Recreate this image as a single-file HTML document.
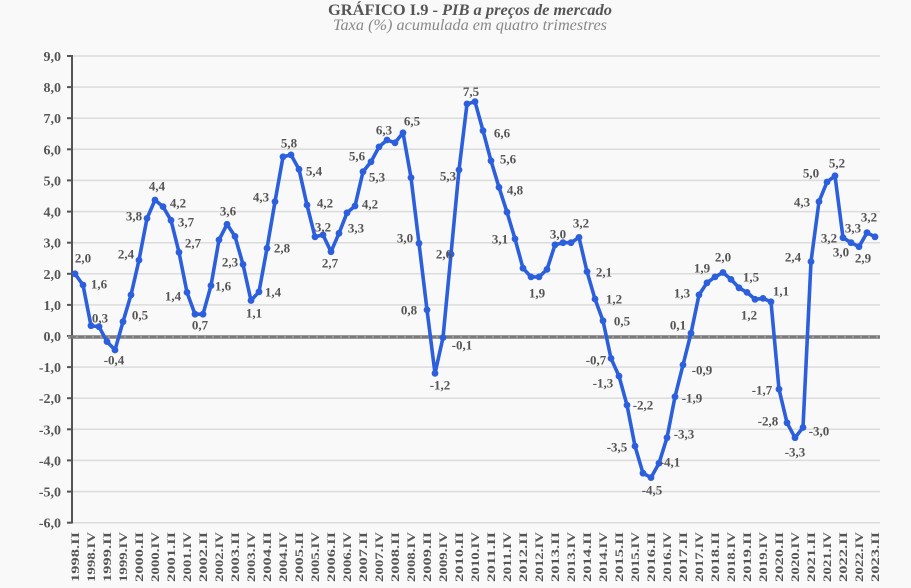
<!DOCTYPE html>
<html><head><meta charset="utf-8"><style>
html,body{margin:0;padding:0;background:#f9f9f9;}
svg{display:block;}
.t{font-family:"Liberation Serif",serif;}
.yl{font-family:"Liberation Serif",serif;font-weight:bold;font-size:14px;fill:#555;text-anchor:end;}
.dl{font-family:"Liberation Serif",serif;font-weight:bold;font-size:13px;fill:#555;text-anchor:middle;}
.xl{font-family:"Liberation Serif",serif;font-weight:bold;font-size:12px;fill:#555;text-anchor:end;}
</style></head><body>
<svg width="911" height="588" viewBox="0 0 911 588" xmlns="http://www.w3.org/2000/svg">
<rect width="911" height="588" fill="#f9f9f9"/>
<text class="t" x="328" y="15" font-size="16" font-weight="bold" fill="#555" textLength="110" lengthAdjust="spacingAndGlyphs">GRÁFICO I.9 -</text>
<text class="t" x="442" y="15" font-size="16" font-weight="bold" font-style="italic" fill="#555" textLength="170" lengthAdjust="spacingAndGlyphs">PIB a preços de mercado</text>
<text class="t" x="333" y="30" font-size="16" font-style="italic" fill="#888" textLength="274" lengthAdjust="spacingAndGlyphs">Taxa (%) acumulada em quatro trimestres</text>
<g stroke="#dcdcdc" stroke-width="1.5">
<line x1="72" y1="56" x2="880" y2="56"/><line x1="72" y1="87.1" x2="880" y2="87.1"/><line x1="72" y1="118.2" x2="880" y2="118.2"/><line x1="72" y1="149.3" x2="880" y2="149.3"/><line x1="72" y1="180.4" x2="880" y2="180.4"/><line x1="72" y1="211.6" x2="880" y2="211.6"/><line x1="72" y1="242.7" x2="880" y2="242.7"/><line x1="72" y1="273.8" x2="880" y2="273.8"/><line x1="72" y1="304.9" x2="880" y2="304.9"/><line x1="72" y1="367.1" x2="880" y2="367.1"/><line x1="72" y1="398.2" x2="880" y2="398.2"/><line x1="72" y1="429.3" x2="880" y2="429.3"/><line x1="72" y1="460.4" x2="880" y2="460.4"/><line x1="72" y1="491.6" x2="880" y2="491.6"/><line x1="72" y1="522.7" x2="880" y2="522.7"/>
</g>
<g stroke="#555" stroke-width="2">
<line x1="72" y1="55" x2="72" y2="523.5"/>
<line x1="67" y1="56" x2="72" y2="56"/><line x1="67" y1="87.1" x2="72" y2="87.1"/><line x1="67" y1="118.2" x2="72" y2="118.2"/><line x1="67" y1="149.3" x2="72" y2="149.3"/><line x1="67" y1="180.4" x2="72" y2="180.4"/><line x1="67" y1="211.6" x2="72" y2="211.6"/><line x1="67" y1="242.7" x2="72" y2="242.7"/><line x1="67" y1="273.8" x2="72" y2="273.8"/><line x1="67" y1="304.9" x2="72" y2="304.9"/><line x1="67" y1="336" x2="72" y2="336"/><line x1="67" y1="367.1" x2="72" y2="367.1"/><line x1="67" y1="398.2" x2="72" y2="398.2"/><line x1="67" y1="429.3" x2="72" y2="429.3"/><line x1="67" y1="460.4" x2="72" y2="460.4"/><line x1="67" y1="491.6" x2="72" y2="491.6"/><line x1="67" y1="522.7" x2="72" y2="522.7"/>
</g>
<line x1="68" y1="337" x2="880" y2="337" stroke="#7a7a7a" stroke-width="3.5"/>
<line x1="68" y1="337" x2="880" y2="337" stroke="#a5a5a5" stroke-width="1.5" stroke-dasharray="2 6"/>
<g>
<text class="yl" x="61" y="61">9,0</text><text class="yl" x="61" y="92.1">8,0</text><text class="yl" x="61" y="123.2">7,0</text><text class="yl" x="61" y="154.3">6,0</text><text class="yl" x="61" y="185.4">5,0</text><text class="yl" x="61" y="216.6">4,0</text><text class="yl" x="61" y="247.7">3,0</text><text class="yl" x="61" y="278.8">2,0</text><text class="yl" x="61" y="309.9">1,0</text><text class="yl" x="61" y="341">0,0</text><text class="yl" x="61" y="372.1">-1,0</text><text class="yl" x="61" y="403.2">-2,0</text><text class="yl" x="61" y="434.3">-3,0</text><text class="yl" x="61" y="465.4">-4,0</text><text class="yl" x="61" y="496.6">-5,0</text><text class="yl" x="61" y="527.7">-6,0</text>
</g>
<defs>
<marker id="m" markerUnits="userSpaceOnUse" markerWidth="10" markerHeight="10" refX="5" refY="5"><circle cx="5" cy="5" r="3.4" fill="#2b5fdc"/></marker>
</defs>
<polyline fill="none" stroke="#2b5fdc" stroke-width="3.6" stroke-linejoin="round" marker-start="url(#m)" marker-mid="url(#m)" marker-end="url(#m)" points="75,273.8 83,285 91,325.7 99,326.7 107,341.6 115,350 123,321.7 131,294.9 139,260.1 147,218.4 155,200 163,206.6 171,220.3 179,252.3 187,292.4 195,314.2 203,314.2 211,285.6 219,239.9 227,224.3 235,236.4 243,264.4 251,300.5 259,291.8 267,248.3 275,201.6 283,156.8 291,154.9 299,169.3 307,205 315,236.8 323,234.9 331,251.7 339,233.3 347,212.8 355,206 363,171.7 371,161.8 379,146.9 387,140 395,142.8 403,132.8 411,177.6 419,243.3 427,309.9 435,373.3 443,337.6 451,254.2 459,169.9 467,103.9 475,101.7 483,130.7 491,160.8 499,187.3 507,212.2 515,238.9 523,268.2 531,276.9 539,276.9 547,269.4 555,244.8 563,242.7 571,242.7 579,237.4 587,271.6 595,299 603,320.8 611,358.4 619,376.1 627,405.1 635,446.1 643,473.2 651,477.6 659,463.2 667,437.7 675,396.7 683,364.9 691,333.2 699,294.9 707,282.8 715,276.9 723,272.5 731,279.4 739,287.8 747,292.4 755,299.3 763,298.4 771,301.8 779,389.2 787,422.8 795,437.7 803,427.5 811,261.6 819,201.6 827,182 835,175.8 843,237.7 851,242.7 859,246.7 867,232.7 875,236.8"/>
<g>
<text class="dl" x="83" y="262.5">2,0</text>
<text class="dl" x="99" y="288.5">1,6</text>
<text class="dl" x="100" y="322.5">0,3</text>
<text class="dl" x="114" y="364.5">-0,4</text>
<text class="dl" x="140" y="319.5">0,5</text>
<text class="dl" x="126" y="258.5">2,4</text>
<text class="dl" x="134" y="220.5">3,8</text>
<text class="dl" x="157" y="190.5">4,4</text>
<text class="dl" x="178" y="207.5">4,2</text>
<text class="dl" x="186" y="226.5">3,7</text>
<text class="dl" x="193" y="247.5">2,7</text>
<text class="dl" x="173" y="300.5">1,4</text>
<text class="dl" x="200" y="329.5">0,7</text>
<text class="dl" x="223" y="290.5">1,6</text>
<text class="dl" x="228" y="215.5">3,6</text>
<text class="dl" x="230" y="266.5">2,3</text>
<text class="dl" x="254" y="317.5">1,1</text>
<text class="dl" x="273" y="296.5">1,4</text>
<text class="dl" x="261" y="201.5">4,3</text>
<text class="dl" x="282" y="252.5">2,8</text>
<text class="dl" x="289" y="147.5">5,8</text>
<text class="dl" x="314" y="175.5">5,4</text>
<text class="dl" x="325" y="207.5">4,2</text>
<text class="dl" x="323" y="231.5">3,2</text>
<text class="dl" x="330" y="267.5">2,7</text>
<text class="dl" x="356" y="232.5">3,3</text>
<text class="dl" x="370" y="208.5">4,2</text>
<text class="dl" x="357" y="160.5">5,6</text>
<text class="dl" x="377" y="181.5">5,3</text>
<text class="dl" x="384" y="134.5">6,3</text>
<text class="dl" x="412" y="125.5">6,5</text>
<text class="dl" x="405" y="242.5">3,0</text>
<text class="dl" x="409" y="314.5">0,8</text>
<text class="dl" x="440" y="389.5">-1,2</text>
<text class="dl" x="462" y="349.5">-0,1</text>
<text class="dl" x="444" y="258.5">2,6</text>
<text class="dl" x="448" y="180.5">5,3</text>
<text class="dl" x="471" y="96">7,5</text>
<text class="dl" x="502" y="137.5">6,6</text>
<text class="dl" x="508" y="163.5">5,6</text>
<text class="dl" x="515" y="194.5">4,8</text>
<text class="dl" x="500" y="243.5">3,1</text>
<text class="dl" x="537" y="297.5">1,9</text>
<text class="dl" x="558" y="238.5">3,0</text>
<text class="dl" x="581" y="227.5">3,2</text>
<text class="dl" x="604" y="276.5">2,1</text>
<text class="dl" x="614" y="303.5">1,2</text>
<text class="dl" x="622" y="325.5">0,5</text>
<text class="dl" x="596" y="364.5">-0,7</text>
<text class="dl" x="603" y="387.5">-1,3</text>
<text class="dl" x="643" y="409.5">-2,2</text>
<text class="dl" x="617" y="451.5">-3,5</text>
<text class="dl" x="652" y="494.5">-4,5</text>
<text class="dl" x="670" y="466.5">-4,1</text>
<text class="dl" x="684" y="438.5">-3,3</text>
<text class="dl" x="692" y="402.5">-1,9</text>
<text class="dl" x="702" y="374.5">-0,9</text>
<text class="dl" x="678" y="329.5">0,1</text>
<text class="dl" x="682" y="297.5">1,3</text>
<text class="dl" x="702" y="272.5">1,9</text>
<text class="dl" x="723" y="261.5">2,0</text>
<text class="dl" x="751" y="281.5">1,5</text>
<text class="dl" x="749" y="319.5">1,2</text>
<text class="dl" x="781" y="295.5">1,1</text>
<text class="dl" x="762" y="394.5">-1,7</text>
<text class="dl" x="768" y="425.5">-2,8</text>
<text class="dl" x="795" y="456.5">-3,3</text>
<text class="dl" x="819" y="435.5">-3,0</text>
<text class="dl" x="793" y="261.5">2,4</text>
<text class="dl" x="802" y="206.5">4,3</text>
<text class="dl" x="811" y="177.5">5,0</text>
<text class="dl" x="837" y="167.5">5,2</text>
<text class="dl" x="829" y="242.5">3,2</text>
<text class="dl" x="841" y="256.5">3,0</text>
<text class="dl" x="853" y="232.5">3,3</text>
<text class="dl" x="863" y="262.5">2,9</text>
<text class="dl" x="869" y="221.5">3,2</text>
</g>
<g>
<text class="xl" transform="translate(79,532) rotate(-90)" textLength="50" lengthAdjust="spacingAndGlyphs">1998.II</text>
<text class="xl" transform="translate(95,532) rotate(-90)" textLength="50" lengthAdjust="spacingAndGlyphs">1998.IV</text>
<text class="xl" transform="translate(111,532) rotate(-90)" textLength="50" lengthAdjust="spacingAndGlyphs">1999.II</text>
<text class="xl" transform="translate(127,532) rotate(-90)" textLength="50" lengthAdjust="spacingAndGlyphs">1999.IV</text>
<text class="xl" transform="translate(143,532) rotate(-90)" textLength="50" lengthAdjust="spacingAndGlyphs">2000.II</text>
<text class="xl" transform="translate(159,532) rotate(-90)" textLength="50" lengthAdjust="spacingAndGlyphs">2000.IV</text>
<text class="xl" transform="translate(175,532) rotate(-90)" textLength="50" lengthAdjust="spacingAndGlyphs">2001.II</text>
<text class="xl" transform="translate(191,532) rotate(-90)" textLength="50" lengthAdjust="spacingAndGlyphs">2001.IV</text>
<text class="xl" transform="translate(207,532) rotate(-90)" textLength="50" lengthAdjust="spacingAndGlyphs">2002.II</text>
<text class="xl" transform="translate(223,532) rotate(-90)" textLength="50" lengthAdjust="spacingAndGlyphs">2002.IV</text>
<text class="xl" transform="translate(239,532) rotate(-90)" textLength="50" lengthAdjust="spacingAndGlyphs">2003.II</text>
<text class="xl" transform="translate(255,532) rotate(-90)" textLength="50" lengthAdjust="spacingAndGlyphs">2003.IV</text>
<text class="xl" transform="translate(271,532) rotate(-90)" textLength="50" lengthAdjust="spacingAndGlyphs">2004.II</text>
<text class="xl" transform="translate(287,532) rotate(-90)" textLength="50" lengthAdjust="spacingAndGlyphs">2004.IV</text>
<text class="xl" transform="translate(303,532) rotate(-90)" textLength="50" lengthAdjust="spacingAndGlyphs">2005.II</text>
<text class="xl" transform="translate(319,532) rotate(-90)" textLength="50" lengthAdjust="spacingAndGlyphs">2005.IV</text>
<text class="xl" transform="translate(335,532) rotate(-90)" textLength="50" lengthAdjust="spacingAndGlyphs">2006.II</text>
<text class="xl" transform="translate(351,532) rotate(-90)" textLength="50" lengthAdjust="spacingAndGlyphs">2006.IV</text>
<text class="xl" transform="translate(367,532) rotate(-90)" textLength="50" lengthAdjust="spacingAndGlyphs">2007.II</text>
<text class="xl" transform="translate(383,532) rotate(-90)" textLength="50" lengthAdjust="spacingAndGlyphs">2007.IV</text>
<text class="xl" transform="translate(399,532) rotate(-90)" textLength="50" lengthAdjust="spacingAndGlyphs">2008.II</text>
<text class="xl" transform="translate(415,532) rotate(-90)" textLength="50" lengthAdjust="spacingAndGlyphs">2008.IV</text>
<text class="xl" transform="translate(431,532) rotate(-90)" textLength="50" lengthAdjust="spacingAndGlyphs">2009.II</text>
<text class="xl" transform="translate(447,532) rotate(-90)" textLength="50" lengthAdjust="spacingAndGlyphs">2009.IV</text>
<text class="xl" transform="translate(463,532) rotate(-90)" textLength="50" lengthAdjust="spacingAndGlyphs">2010.II</text>
<text class="xl" transform="translate(479,532) rotate(-90)" textLength="50" lengthAdjust="spacingAndGlyphs">2010.IV</text>
<text class="xl" transform="translate(495,532) rotate(-90)" textLength="50" lengthAdjust="spacingAndGlyphs">2011.II</text>
<text class="xl" transform="translate(511,532) rotate(-90)" textLength="50" lengthAdjust="spacingAndGlyphs">2011.IV</text>
<text class="xl" transform="translate(527,532) rotate(-90)" textLength="50" lengthAdjust="spacingAndGlyphs">2012.II</text>
<text class="xl" transform="translate(543,532) rotate(-90)" textLength="50" lengthAdjust="spacingAndGlyphs">2012.IV</text>
<text class="xl" transform="translate(559,532) rotate(-90)" textLength="50" lengthAdjust="spacingAndGlyphs">2013.II</text>
<text class="xl" transform="translate(575,532) rotate(-90)" textLength="50" lengthAdjust="spacingAndGlyphs">2013.IV</text>
<text class="xl" transform="translate(591,532) rotate(-90)" textLength="50" lengthAdjust="spacingAndGlyphs">2014.II</text>
<text class="xl" transform="translate(607,532) rotate(-90)" textLength="50" lengthAdjust="spacingAndGlyphs">2014.IV</text>
<text class="xl" transform="translate(623,532) rotate(-90)" textLength="50" lengthAdjust="spacingAndGlyphs">2015.II</text>
<text class="xl" transform="translate(639,532) rotate(-90)" textLength="50" lengthAdjust="spacingAndGlyphs">2015.IV</text>
<text class="xl" transform="translate(655,532) rotate(-90)" textLength="50" lengthAdjust="spacingAndGlyphs">2016.II</text>
<text class="xl" transform="translate(671,532) rotate(-90)" textLength="50" lengthAdjust="spacingAndGlyphs">2016.IV</text>
<text class="xl" transform="translate(687,532) rotate(-90)" textLength="50" lengthAdjust="spacingAndGlyphs">2017.II</text>
<text class="xl" transform="translate(703,532) rotate(-90)" textLength="50" lengthAdjust="spacingAndGlyphs">2017.IV</text>
<text class="xl" transform="translate(719,532) rotate(-90)" textLength="50" lengthAdjust="spacingAndGlyphs">2018.II</text>
<text class="xl" transform="translate(735,532) rotate(-90)" textLength="50" lengthAdjust="spacingAndGlyphs">2018.IV</text>
<text class="xl" transform="translate(751,532) rotate(-90)" textLength="50" lengthAdjust="spacingAndGlyphs">2019.II</text>
<text class="xl" transform="translate(767,532) rotate(-90)" textLength="50" lengthAdjust="spacingAndGlyphs">2019.IV</text>
<text class="xl" transform="translate(783,532) rotate(-90)" textLength="50" lengthAdjust="spacingAndGlyphs">2020.II</text>
<text class="xl" transform="translate(799,532) rotate(-90)" textLength="50" lengthAdjust="spacingAndGlyphs">2020.IV</text>
<text class="xl" transform="translate(815,532) rotate(-90)" textLength="50" lengthAdjust="spacingAndGlyphs">2021.II</text>
<text class="xl" transform="translate(831,532) rotate(-90)" textLength="50" lengthAdjust="spacingAndGlyphs">2021.IV</text>
<text class="xl" transform="translate(847,532) rotate(-90)" textLength="50" lengthAdjust="spacingAndGlyphs">2022.II</text>
<text class="xl" transform="translate(863,532) rotate(-90)" textLength="50" lengthAdjust="spacingAndGlyphs">2022.IV</text>
<text class="xl" transform="translate(879,532) rotate(-90)" textLength="50" lengthAdjust="spacingAndGlyphs">2023.II</text>
</g>
</svg>
</body></html>
